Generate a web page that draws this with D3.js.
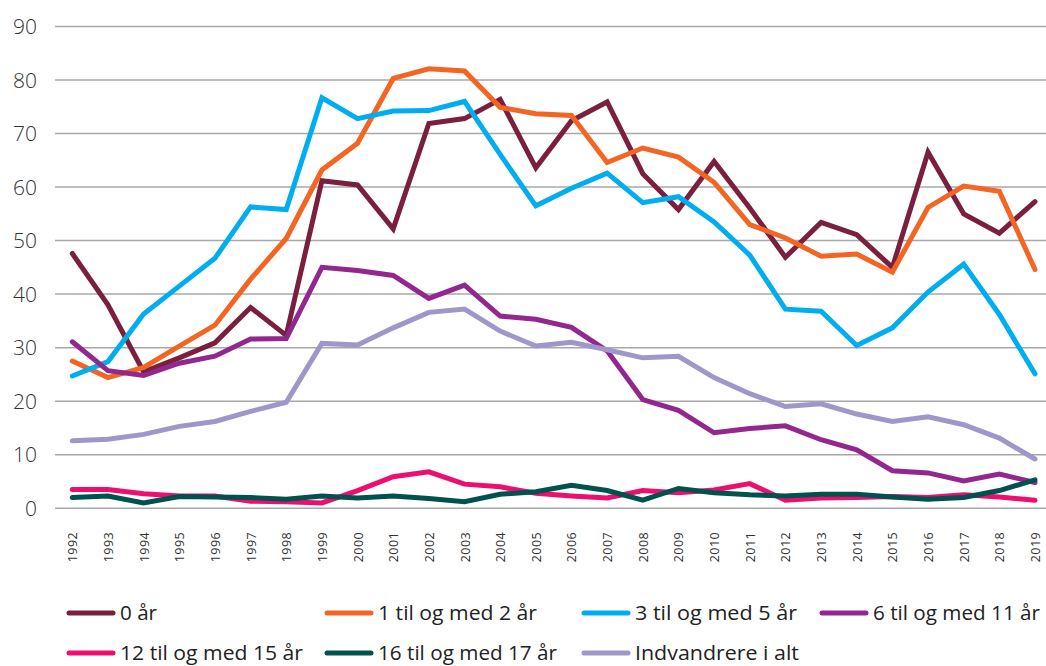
<!DOCTYPE html>
<html><head><meta charset="utf-8">
<script src="https://cdn.jsdelivr.net/npm/d3@7"></script>
<style>
html,body{margin:0;padding:0;background:#fff;}
svg{display:block;font-family:"Open Sans","Lato",sans-serif;}
</style></head>
<body><svg id="c" width="1046" height="666"></svg>
<script>
const years = ["1992","1993","1994","1995","1996","1997","1998","1999","2000","2001","2002","2003","2004","2005","2006","2007","2008","2009","2010","2011","2012","2013","2014","2015","2016","2017","2018","2019"];
const yTicks = [0,10,20,30,40,50,60,70,80,90];
const seriesNames = ["0 år","1 til og med 2 år","3 til og med 5 år","6 til og med 11 år","12 til og med 15 år","16 til og med 17 år","Indvandrere i alt"];
const colors = ["#7A1F3D","#F26522","#00AEEF","#92278F","#EC0F6F","#00524F","#9D98C9"];
const s0 = [47.5,37.9,25.4,28.0,30.8,37.4,32.2,61.1,60.3,52.1,71.8,72.7,76.3,63.5,72.3,75.8,62.4,55.7,64.7,56.0,46.8,53.3,51.0,44.9,66.4,54.9,51.3,57.2];
const s1 = [27.4,24.3,26.2,30.2,34.1,42.7,50.3,63.1,68.1,80.2,82.0,81.6,74.8,73.6,73.3,64.5,67.2,65.5,60.8,52.9,50.4,47.0,47.4,44.0,56.1,60.1,59.1,44.5];
const s2 = [24.6,27.3,36.2,41.4,46.6,56.2,55.7,76.6,72.7,74.1,74.2,75.9,66.0,56.4,59.7,62.5,57.0,58.1,53.4,47.2,37.1,36.7,30.3,33.6,40.3,45.5,36.1,25.0];
const s3 = [31.0,25.6,24.7,27.0,28.3,31.5,31.6,44.9,44.3,43.4,39.1,41.6,35.8,35.2,33.7,29.3,20.2,18.2,14.0,14.8,15.3,12.7,10.8,6.9,6.5,5.0,6.3,4.7];
const s4 = [3.4,3.4,2.6,2.2,2.2,1.2,1.1,0.9,3.2,5.8,6.7,4.4,3.9,2.7,2.2,1.8,3.2,2.8,3.3,4.5,1.4,1.8,1.9,2.1,1.9,2.4,2.0,1.4];
const s5 = [1.9,2.2,0.9,2.1,2.0,1.9,1.6,2.2,1.8,2.2,1.7,1.1,2.5,3.0,4.2,3.2,1.4,3.6,2.8,2.4,2.2,2.5,2.5,2.0,1.6,1.9,3.2,5.2];
const s6 = [12.5,12.8,13.7,15.2,16.1,18.0,19.7,30.7,30.4,33.6,36.5,37.1,33.0,30.2,30.9,29.5,28.0,28.3,24.3,21.3,18.9,19.4,17.5,16.1,17.0,15.5,13.0,9.1];
const allSeries = [s0,s1,s2,s3,s4,s5,s6];
const legendWidths = [37,159,162,167,183,179,164];

const svg = d3.select("#c");
const x = d3.scalePoint().domain(years).range([72.3, 1035]);
const y = d3.scaleLinear().domain([0,90]).range([507.7, 26]);

// gridlines
const yAxis = d3.axisLeft(y).tickValues(yTicks).tickSize(-(1046-55)).tickFormat(d3.format("d")).tickPadding(18);
const ga = svg.append("g").attr("transform","translate(55,0)").call(yAxis);
ga.select(".domain").remove();
ga.selectAll(".tick line").attr("stroke","#A8A8A8").attr("stroke-width",1.5);
ga.selectAll(".tick text").attr("fill","#333").attr("font-size",21).attr("font-weight",300)
  .attr("font-family","Open Sans").attr("dy","0.36em");

// x axis labels
const xAxis = d3.axisBottom(x).tickSize(0).tickPadding(0);
const gx = svg.append("g").attr("transform","translate(0,532)").call(xAxis);
gx.select(".domain").remove();
gx.selectAll(".tick text")
  .attr("fill","#333").attr("font-size",12.5).attr("font-weight",400)
  .attr("font-family","Open Sans")
  .attr("letter-spacing","0.4px")
  .attr("transform","rotate(-90)")
  .attr("text-anchor","end").attr("x",0).attr("y",0).attr("dy","0.36em");

// lines
const line = d3.line().x((d,i)=>x(years[i])).y(d=>y(d));
allSeries.forEach((s,k)=>{
  svg.append("path").datum(s).attr("d",line)
    .attr("fill","none").attr("stroke",colors[k]).attr("stroke-width",5)
    .attr("stroke-linecap","round").attr("stroke-linejoin","miter");
});

// legend
const legX = [67,325,582,820];
const legY = [613,653];
seriesNames.forEach((n,k)=>{
  const col = k<4 ? k : k-4;
  const row = k<4 ? 0 : 1;
  const lx = legX[col], ly = legY[row];
  svg.append("line").attr("x1",lx+2).attr("x2",lx+46).attr("y1",ly).attr("y2",ly)
    .attr("stroke",colors[k]).attr("stroke-width",5).attr("stroke-linecap","round");
  svg.append("text").attr("x",lx+53).attr("y",ly).attr("dy","0.36em")
    .attr("font-size",20).attr("fill","#222").attr("font-weight",400)
    .attr("font-family","Open Sans")
    .attr("textLength",legendWidths[k]).attr("lengthAdjust","spacingAndGlyphs").text(n);
});
</script></body></html>
